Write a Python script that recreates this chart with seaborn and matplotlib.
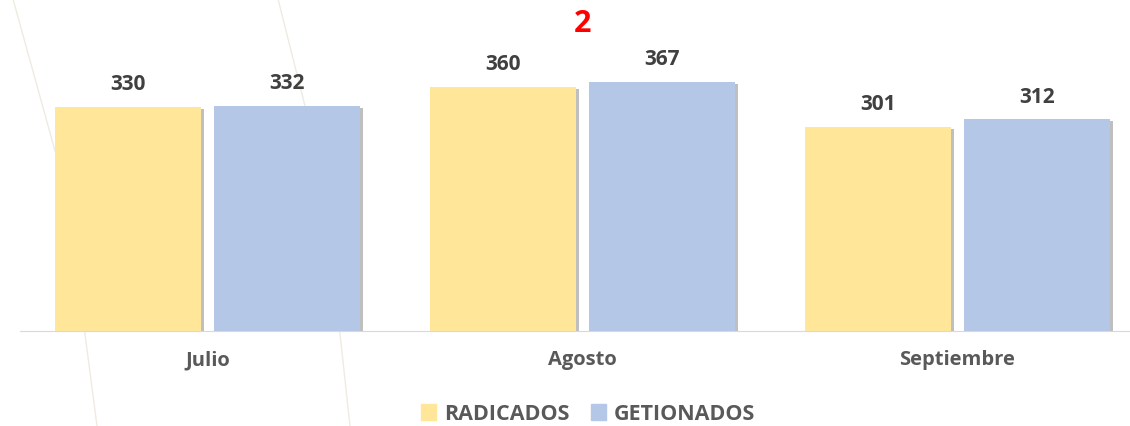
import pandas as pd
import seaborn as sns
import matplotlib.pyplot as plt
import matplotlib.patheffects as pe
from matplotlib.lines import Line2D

meses = ["Julio", "Agosto", "Septiembre"]
radicados = [330, 360, 301]
gestionados = [332, 367, 312]
series = ["RADICADOS", "GETIONADOS"]
colores = ["#FFE699", "#B4C7E7"]

df = pd.DataFrame({
    "mes": meses * 2,
    "serie": [series[0]] * 3 + [series[1]] * 3,
    "valor": radicados + gestionados,
})

sns.set_style("white")
plt.rcParams["font.family"] = ["Open Sans", "DejaVu Sans"]

fig = plt.figure(figsize=(11.3, 4.27), dpi=100)
ax = fig.add_axes([20 / 1130, (427 - 332) / 427, 1110 / 1130, 292 / 427])

# lineas decorativas del fondo (muy tenues)
for xs, ys in [([13, 60, 85, 97], [0, 170, 335, 427]), ([278, 305, 340, 350], [0, 107, 335, 427])]:
    fig.add_artist(Line2D([x / 1130 for x in xs], [1 - y / 427 for y in ys],
                          color="#F0EBE0", lw=1.0, zorder=0, transform=fig.transFigure))

sns.barplot(data=df, x="mes", y="valor", hue="serie", palette=colores,
            width=0.848, gap=0.087, ax=ax, saturation=1, legend=False, linewidth=0)

for p in ax.patches:
    p.set_path_effects([pe.SimplePatchShadow(offset=(2.5, -1.5), shadow_rgbFace="black", alpha=0.25), pe.Normal()])

for c in ax.containers:
    ax.bar_label(c, padding=9, fontsize=15, fontweight="bold", color="#404040")

ax.set_xlim(-0.5, 2.46)
ax.set_ylim(0, 430)
ax.set_xlabel("")
ax.set_ylabel("")
ax.set_yticks([])
ax.tick_params(axis="x", length=0, pad=13, labelsize=14.5, labelcolor="#595959")
for t in ax.get_xticklabels():
    t.set_fontweight("bold")
for s in ["top", "right", "left"]:
    ax.spines[s].set_visible(False)
ax.spines["bottom"].set_color("#D9D9D9")
ax.patch.set_alpha(0)

fig.text(583 / 1130, 1 - 24 / 427, "2", color="#FF0000", fontsize=22, fontweight="bold",
         ha="center", va="center")

handles = [plt.Rectangle((0, 0), 1, 1, color=c) for c in colores]
leg = fig.legend(handles, series, loc="center", bbox_to_anchor=(588 / 1130, 1 - 415 / 427),
                 ncol=2, frameon=False, handlelength=0.7, handleheight=0.7, handletextpad=0.35,
                 columnspacing=1.0, prop={"size": 15.5, "weight": "bold"})
for t in leg.get_texts():
    t.set_color("#595959")

fig.savefig("out.png", dpi=100)
